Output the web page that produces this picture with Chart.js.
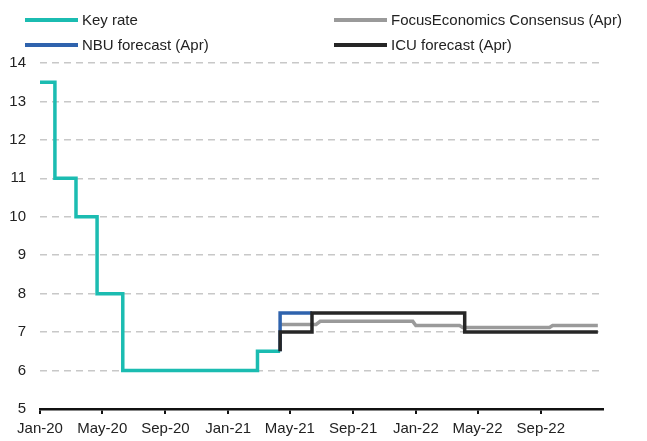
<!DOCTYPE html>
<html>
<head>
<meta charset="utf-8">
<title>Key rate</title>
<script src="https://cdn.jsdelivr.net/npm/chart.js@4.4.1/dist/chart.umd.min.js"></script>
<style>
  html, body { margin: 0; padding: 0; background: #fff; }
  #wrap {
    position: relative;
    width: 647px;
    height: 441px;
    font-family: "Liberation Sans", Arial, sans-serif;
    color: #222;
  }
  #chart { position: absolute; left: 0; top: 0; }
  .legend-item {
    position: absolute;
    display: flex;
    align-items: center;
    font-size: 15px;
    line-height: 18px;
    white-space: nowrap;
    z-index: 2;
  }
  .legend-swatch { display: inline-block; width: 53px; height: 4px; margin-right: 4px; }
</style>
</head>
<body>
<div id="wrap">
  <div id="legend"></div>
  <canvas id="chart" width="647" height="441"></canvas>
</div>
<script>
// ---------- data ----------
const tickDates  = ["2020-01-01", "2020-05-01", "2020-09-01", "2021-01-01", "2021-05-01", "2021-09-01", "2022-01-01", "2022-05-01", "2022-09-01"];
const tickLabels = ["Jan-20", "May-20", "Sep-20", "Jan-21", "May-21", "Sep-21", "Jan-22", "May-22", "Sep-22"];

// NBU key rate, value takes effect on the date
const keyRateDates  = ["2020-01-01", "2020-01-30", "2020-03-11", "2020-04-21", "2020-06-10", "2021-02-27", "2021-04-12"];
const keyRateValues = [13.5, 11, 10, 8, 6, 6.5, 6.5];

const nbuDates  = ["2021-04-12", "2021-04-12", "2021-06-13"];
const nbuValues = [6.5, 7.5, 7.5];

const icuDates  = ["2021-04-12", "2021-04-12", "2021-06-13", "2022-04-06", "2022-12-21"];
const icuValues = [6.5, 7.0, 7.5, 7.0, 7.0];

// consensus moves over a few days, so it is a plain line, not a step
const focusDates  = ["2021-04-12", "2021-06-21", "2021-06-29", "2021-12-26", "2022-01-01", "2022-03-27", "2022-04-02", "2022-09-18", "2022-09-24", "2022-12-21"];
const focusValues = [7.2, 7.2, 7.28, 7.28, 7.17, 7.17, 7.12, 7.12, 7.17, 7.17];

const seriesNames  = ["Key rate", "FocusEconomics Consensus (Apr)", "NBU forecast (Apr)", "ICU forecast (Apr)"];
const seriesColors = ["#1bbcb1", "#9a9a9a", "#2f63ad", "#262626"];

// ---------- helpers ----------
const DAY0 = Date.UTC(2020, 0, 1);
function dayIndex(s) {
  const p = s.split("-").map(Number);
  return (Date.UTC(p[0], p[1] - 1, p[2]) - DAY0) / 864e5;
}
function toPoints(dates, values) {
  return dates.map((d, i) => ({ x: dayIndex(d), y: values[i] }));
}
const tickDays = tickDates.map(dayIndex);
const X_MAX = dayIndex("2022-12-31");

// ---------- legend (two fixed columns) ----------
const legendSlots = [
  { left: 25, top: 11 },   // Key rate
  { left: 334, top: 11 },  // FocusEconomics
  { left: 25, top: 36 },   // NBU
  { left: 334, top: 36 }   // ICU
];
const legendEl = document.getElementById("legend");
seriesNames.forEach((name, i) => {
  const item = document.createElement("div");
  item.className = "legend-item";
  item.style.left = legendSlots[i].left + "px";
  item.style.top = legendSlots[i].top + "px";
  const sw = document.createElement("span");
  sw.className = "legend-swatch";
  sw.style.background = seriesColors[i];
  const txt = document.createElement("span");
  txt.textContent = name;
  item.appendChild(sw);
  item.appendChild(txt);
  legendEl.appendChild(item);
});

// ---------- chart ----------
Chart.defaults.font.family = '"Liberation Sans", Arial, sans-serif';
Chart.defaults.font.size = 15;
Chart.defaults.color = "#222";

const lineBase = {
  borderWidth: 3.5,
  pointRadius: 0,
  tension: 0,
  fill: false,
  borderCapStyle: "butt",
  borderJoinStyle: "miter"
};

new Chart(document.getElementById("chart"), {
  type: "line",
  data: {
    datasets: [
      Object.assign({}, lineBase, { label: seriesNames[0], data: toPoints(keyRateDates, keyRateValues), borderColor: seriesColors[0], stepped: true, order: 3 }),
      Object.assign({}, lineBase, { label: seriesNames[1], data: toPoints(focusDates, focusValues), borderColor: seriesColors[1], order: 2 }),
      Object.assign({}, lineBase, { label: seriesNames[2], data: toPoints(nbuDates, nbuValues), borderColor: seriesColors[2], stepped: true, order: 1 }),
      Object.assign({}, lineBase, { label: seriesNames[3], data: toPoints(icuDates, icuValues), borderColor: seriesColors[3], stepped: true, order: 0 })
    ]
  },
  options: {
    responsive: false,
    animation: false,
    devicePixelRatio: 1,
    layout: { padding: { top: 63, right: 44, left: 0, bottom: 0 } },
    plugins: { legend: { display: false }, tooltip: { enabled: false } },
    scales: {
      x: {
        type: "linear",
        min: 0,
        max: X_MAX,
        afterBuildTicks: scale => { scale.ticks = tickDays.map(v => ({ value: v })); },
        afterFit: scale => { scale.height = 32; },
        ticks: {
          autoSkip: false,
          maxRotation: 0,
          padding: 6,
          callback: (value, index) => tickLabels[index]
        },
        grid: { drawOnChartArea: false, drawTicks: true, tickLength: 5, color: "#111", lineWidth: 2 },
        border: { display: true, color: "#111", width: 2.5 }
      },
      y: {
        min: 5,
        max: 14,
        afterFit: scale => { scale.width = 40; },
        ticks: { stepSize: 1, padding: 14 },
        grid: {
          drawTicks: false,
          lineWidth: 1.5,
          color: ctx => (ctx.tick && ctx.tick.value === 5 ? "rgba(0,0,0,0)" : "#c8c8c8")
        },
        border: { display: false, dash: [7, 5] }
      }
    }
  }
});
</script>
</body>
</html>
